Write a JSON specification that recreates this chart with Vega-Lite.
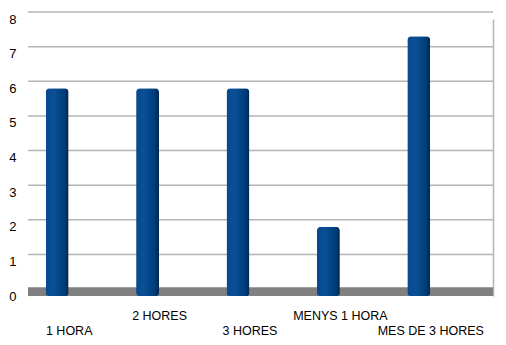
{
  "$schema": "https://vega.github.io/schema/vega-lite/v6.json",
  "width": 465,
  "height": 277,
  "autosize": {"type": "none"},
  "padding": {"left": 28, "top": 19, "right": 13, "bottom": 49},
  "background": "white",
  "config": {
    "view": {"stroke": null},
    "font": "Liberation Sans"
  },
  "datasets": {
    "bars": [
      {"categoria": "1 HORA", "valor": 6},
      {"categoria": "2 HORES", "valor": 6},
      {"categoria": "3 HORES", "valor": 6},
      {"categoria": "MENYS 1 HORA", "valor": 2},
      {"categoria": "MES DE 3 HORES", "valor": 7.5}
    ],
    "grid": [
      {"g": 1}, {"g": 2}, {"g": 3}, {"g": 4}, {"g": 5}, {"g": 6}, {"g": 7}, {"g": 8}
    ],
    "floor": [{"a": 0, "b": 0.25}]
  },
  "layer": [
    {
      "data": {"name": "grid"},
      "mark": {"type": "rule", "color": "#b3b3b3", "strokeWidth": 1.5, "yOffset": -7},
      "encoding": {
        "y": {"field": "g", "type": "quantitative", "scale": {"domain": [0, 8]},
          "axis": {"orient": "right", "labels": false, "ticks": false, "grid": false, "title": null, "domain": true, "domainColor": "#b3b3b3", "domainWidth": 1.5}}
      }
    },
    {
      "data": {"name": "floor"},
      "mark": {"type": "rect", "color": "#808080"},
      "encoding": {
        "y": {"field": "a", "type": "quantitative", "axis": null},
        "y2": {"field": "b"}
      }
    },
    {
      "data": {"name": "bars"},
      "mark": {
        "type": "bar",
        "width": 23,
        "xOffset": -12,
        "cornerRadiusTopLeft": 4,
        "cornerRadiusTopRight": 4,
        "cornerRadiusBottomLeft": 3,
        "cornerRadiusBottomRight": 3,
        "color": {
          "gradient": "linear", "x1": 0, "x2": 1, "y1": 0, "y2": 0,
          "stops": [
            {"offset": 0, "color": "#08498c"},
            {"offset": 0.35, "color": "#0a4f98"},
            {"offset": 0.8, "color": "#003d79"},
            {"offset": 1, "color": "#002850"}
          ]
        }
      },
      "encoding": {
        "x": {
          "field": "categoria", "type": "nominal", "sort": null,
          "scale": {"range": [-4, 448], "paddingInner": 0, "paddingOuter": 0},
          "axis": {
            "title": null, "labelAngle": 0, "ticks": false, "domain": false,
            "labelFontSize": 12.5, "labelColor": "#000000", "labelBaseline": "top",
            "labelPadding": {"condition": {"test": "datum.value == '2 HORES' || datum.value == 'MENYS 1 HORA'", "value": 13}, "value": 28}
          }
        },
        "y": {
          "field": "valor", "type": "quantitative",
          "scale": {"domain": [0, 8]},
          "axis": {"title": null, "grid": false, "ticks": false, "domain": false, "values": [0,1,2,3,4,5,6,7,8],
            "labelFontSize": 13, "labelColor": "#000000", "labelPadding": 12}
        }
      }
    }
  ],
  "resolve": {"axis": {"y": "independent"}}
}
